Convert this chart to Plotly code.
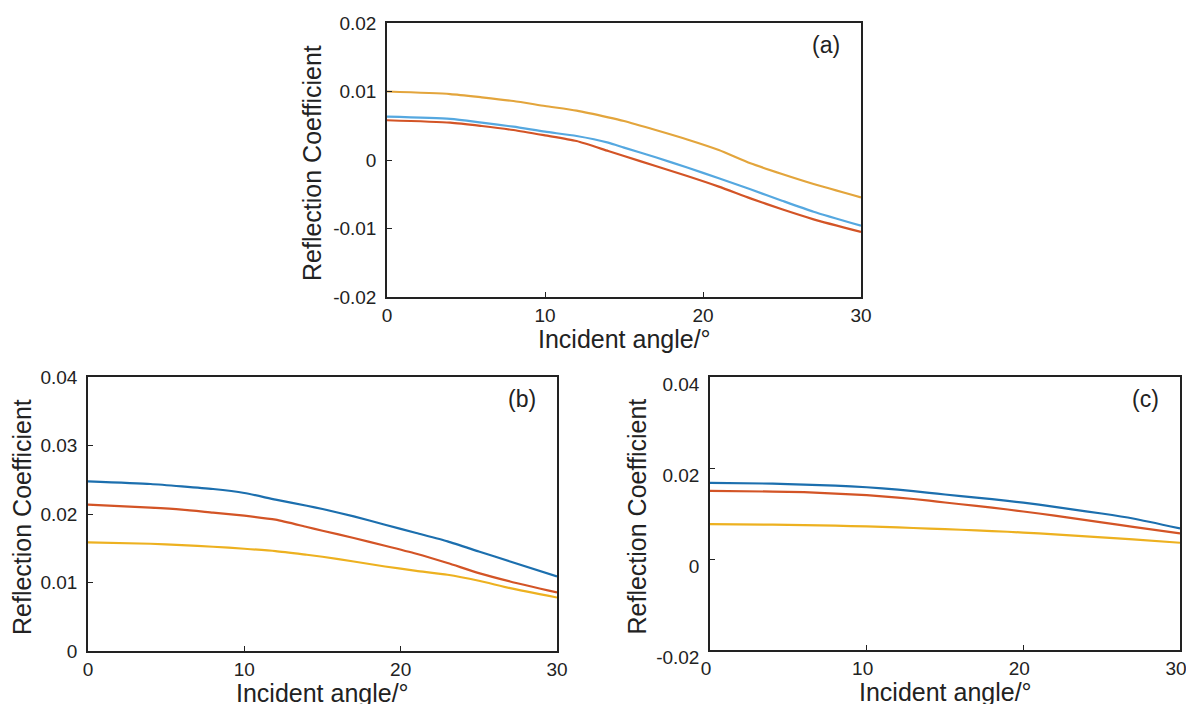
import plotly.graph_objects as go

# ---------------- data ----------------
angles = [0, 4, 6, 8, 10, 12, 14, 15, 17, 19, 21, 23, 25, 27, 30]

# panel (a)
a_orange = [0.0100, 0.00963, 0.00915, 0.00861, 0.00788, 0.0072, 0.00623, 0.00569,
            0.00438, 0.0030, 0.00146, -0.00048, -0.00204, -0.0035, -0.00545]
a_blue = [0.00632, 0.0060, 0.00545, 0.00486, 0.00413, 0.0035, 0.00253, 0.0018,
          0.0004, -0.0011, -0.00267, -0.00428, -0.00594, -0.00755, -0.0096]
a_red = [0.0058, 0.00545, 0.00496, 0.00438, 0.0036, 0.00277, 0.00131, 0.00058,
         -0.00088, -0.00234, -0.00389, -0.0056, -0.0072, -0.00866, -0.0105]

# panel (b)
b_blue = [0.02477, 0.02438, 0.02404, 0.02365, 0.02307, 0.02209, 0.02121, 0.02073,
          0.01965, 0.01844, 0.01722, 0.0160, 0.01453, 0.01307, 0.01088]
b_red = [0.02136, 0.02092, 0.02063, 0.02019, 0.01975, 0.01917, 0.0181, 0.01756,
         0.01649, 0.01537, 0.0142, 0.01284, 0.01137, 0.01015, 0.00854]
b_yellow = [0.01585, 0.01566, 0.01547, 0.01522, 0.01493, 0.01459, 0.01405, 0.01376,
            0.01307, 0.01234, 0.01171, 0.01113, 0.01025, 0.00918, 0.00781]

# panel (c)
c_blue = [0.01672, 0.01657, 0.01635, 0.01614, 0.01577, 0.01526, 0.01455, 0.01417,
          0.01351, 0.01278, 0.01197, 0.01095, 0.0100, 0.00891, 0.00672]
c_red = [0.01497, 0.01482, 0.01468, 0.01438, 0.01402, 0.01351, 0.01282, 0.01241,
         0.01168, 0.01088, 0.0100, 0.00905, 0.00803, 0.00708, 0.00562]
c_yellow = [0.00767, 0.00755, 0.00745, 0.00732, 0.00716, 0.00695, 0.00668, 0.00657,
            0.00628, 0.00599, 0.00562, 0.00518, 0.00474, 0.00431, 0.00357]

x_ticks = [0, 10, 20, 30]
a_yticks = [-0.02, -0.01, 0, 0.01, 0.02]
a_ylabels = ["-0.02", "-0.01", "0", "0.01", "0.02"]
b_yticks = [0, 0.01, 0.02, 0.03, 0.04]
b_ylabels = ["0", "0.01", "0.02", "0.03", "0.04"]
c_yticks = [-0.02, 0, 0.02, 0.04]
c_ylabels = ["-0.02", "0", "0.02", "0.04"]

panel_labels = ["(a)", "(b)", "(c)"]
x_title = "Incident angle/°"
y_title = "Reflection Coefficient"

# ---------------- styling ----------------
W, H = 1186, 704
FONT = "Liberation Sans, Arial, sans-serif"
ORANGE_A = "#E3A53C"
BLUE_A = "#55A8E0"
RED = "#D35426"
BLUE = "#1C6FAE"
YELLOW = "#EDB120"

fig = go.Figure()

def add(xa, ya, y, color):
    fig.add_trace(go.Scatter(x=angles, y=y, mode="lines",
                             line=dict(color=color, width=2.2, shape="spline", smoothing=0.6),
                             xaxis=xa, yaxis=ya, showlegend=False, hoverinfo="skip"))

add("x", "y", a_orange, ORANGE_A)
add("x", "y", a_blue, BLUE_A)
add("x", "y", a_red, RED)
add("x2", "y2", b_blue, BLUE)
add("x2", "y2", b_red, RED)
add("x2", "y2", b_yellow, YELLOW)
add("x3", "y3", c_blue, BLUE)
add("x3", "y3", c_red, RED)
add("x3", "y3", c_yellow, YELLOW)

def px_x(p):
    return p / W

def px_y(p):
    return 1 - p / H

panels = {
    "a": dict(x0=387, x1=861, y0=23, y1=297, yr=[-0.02, 0.02], yt=a_yticks, yl=a_ylabels, ytx=-75, xs=0),
    "b": dict(x0=88, x1=557, y0=377, y1=651, yr=[0, 0.04], yt=b_yticks, yl=b_ylabels, ytx=-66, xs=0),
    "c": dict(x0=710, x1=1180, y0=377, y1=650, yr=[-0.02, 0.04], yt=c_yticks, yl=c_ylabels, ytx=-74, xs=-4),
}

axis_common = dict(showline=True, linecolor="#222", linewidth=1.5, mirror=True, ticks="inside",
                   ticklen=5, tickcolor="#222", showgrid=False, zeroline=False, automargin=False,
                   ticklabeloverflow="allow",
                   tickfont=dict(family=FONT, size=19, color="#222"))

layout = dict(width=W, height=H, margin=dict(l=0, r=0, t=0, b=0, pad=0, autoexpand=False),
              paper_bgcolor="white", plot_bgcolor="white", annotations=[])

for i, (k, p) in enumerate(panels.items()):
    sfx = "" if i == 0 else str(i + 1)
    layout["xaxis" + sfx] = dict(axis_common, domain=[px_x(p["x0"]), px_x(p["x1"])], range=[0, 30],
                                 tickvals=x_ticks, anchor="y" + sfx, ticklabelstandoff=0,
                                 ticklabelshift=p["xs"])
    ya = dict(axis_common, domain=[px_y(p["y1"]), px_y(p["y0"])], range=p["yr"],
              tickvals=p["yt"], ticktext=p["yl"], anchor="x" + sfx, ticklabelstandoff=5)
    if k == "c":
        ya["ticklabelshift"] = 7
    layout["yaxis" + sfx] = ya
    # panel label
    layout["annotations"].append(dict(text=panel_labels[i], x=px_x(p["x1"] - 35), y=px_y(p["y0"] + 22),
                                      xref="paper", yref="paper", showarrow=False,
                                      xanchor="center", yanchor="middle",
                                      font=dict(family=FONT, size=23, color="#222")))
    # x title
    layout["annotations"].append(dict(text=x_title, x=px_x((p["x0"] + p["x1"]) / 2),
                                      y=px_y(p["y1"] + 42), xref="paper", yref="paper", showarrow=False,
                                      xanchor="center", yanchor="middle",
                                      font=dict(family=FONT, size=25, color="#222")))
    # y title
    layout["annotations"].append(dict(text=y_title, x=px_x(p["x0"] + p["ytx"]),
                                      y=px_y((p["y0"] + p["y1"]) / 2 + 3),
                                      xref="paper", yref="paper", showarrow=False, textangle=-90,
                                      xanchor="center", yanchor="middle",
                                      font=dict(family=FONT, size=25, color="#222")))

fig.update_layout(**layout)
fig.write_html("out.html", config={"displayModeBar": False},
               post_script="document.body.style.margin='0';document.body.style.overflow='hidden';")
